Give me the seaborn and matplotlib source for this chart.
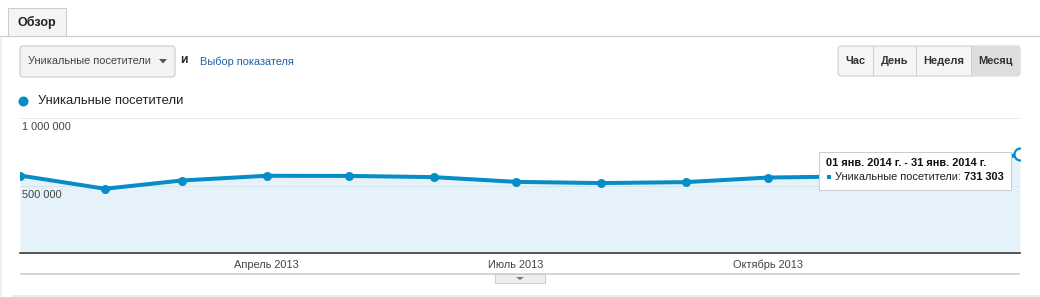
import matplotlib
matplotlib.use("Agg")
import matplotlib.pyplot as plt
import matplotlib.patches as mpatches
import matplotlib.transforms as mtransforms
import seaborn as sns
import pandas as pd

# ---- data ----
months = ["2013-01-01", "2013-02-01", "2013-03-01", "2013-04-01", "2013-05-01",
          "2013-06-01", "2013-07-01", "2013-08-01", "2013-09-01", "2013-10-01",
          "2013-11-01", "2013-12-01", "2014-01-01"]
visitors = [574000, 476000, 537000, 572000, 571000, 562000, 527000, 518000,
            525000, 559000, 567000, 600000, 731303]
tick_dates = ["2013-04-01", "2013-07-01", "2013-10-01"]
tick_labels = ["Апрель 2013", "Июль 2013", "Октябрь 2013"]
y_ticks = [500000, 1000000]
y_labels = ["500 000", "1 000 000"]
series_name = "Уникальные посетители"
tooltip_title = "01 янв. 2014 г. - 31 янв. 2014 г."
periods = ["Час", "День", "Неделя", "Месяц"]

df = pd.DataFrame({"month": pd.to_datetime(months), "visitors": visitors})

sns.set_theme(style="white")
plt.rcParams["font.family"] = ["Liberation Sans", "DejaVu Sans"]

W, H = 1040, 297
fig = plt.figure(figsize=(W / 100, H / 100), dpi=100)
fig.patch.set_facecolor("white")
PT = 0.72  # px -> pt

BLUE = "#058dc7"
FILL = "#e6f2f9"

# ---- chart axes ----
ax = fig.add_axes([20 / W, 44 / H, 1000 / W, 135 / H])
ax.set_facecolor("none")
ax.fill_between(df["month"], df["visitors"], 0, color=FILL, lw=0, zorder=1)
sns.lineplot(data=df, x="month", y="visitors", ax=ax, color=BLUE,
             lw=4 * PT, marker="o", markersize=9 * PT, markeredgewidth=0,
             zorder=3)
last = df.iloc[[-1]]
ax.plot(last["month"], last["visitors"], "o", ms=12 * PT, mfc="white",
        mec=BLUE, mew=2.2 * PT, zorder=4)

ax.set_xlim(df["month"].iloc[0], df["month"].iloc[-1])
ax.set_ylim(0, y_ticks[-1])
ax.set_xlabel("")
ax.set_ylabel("")
ax.set_xticks(pd.to_datetime(tick_dates))
ax.set_xticklabels(tick_labels)
ax.tick_params(axis="x", length=0, pad=5, labelsize=11 * PT, labelcolor="#444")
ax.set_yticks([])
for v, c in zip(y_ticks, ["#d6e4ec", "#e8e8e8"]):
    ax.axhline(v, color=c, lw=1 * PT, zorder=2)
tr = mtransforms.blended_transform_factory(ax.transAxes, ax.transData)
shift = mtransforms.ScaledTranslation(0, -4 / 100, fig.dpi_scale_trans)
for v, lab in zip(y_ticks, y_labels):
    ax.text(2 / 1000, v, lab, transform=tr + shift, ha="left", va="top",
            fontsize=11 * PT, color="#444", zorder=5)
for s in ["top", "right", "left"]:
    ax.spines[s].set_visible(False)
ax.spines["bottom"].set_color("#333")
ax.spines["bottom"].set_linewidth(1.6 * PT)

# ---- overlay for UI elements (pixel coords) ----
ov = fig.add_axes([0, 0, 1, 1], zorder=10)
ov.set_xlim(0, W)
ov.set_ylim(H, 0)
ov.axis("off")
ov.patch.set_alpha(0)


def rect(x0, y0, x1, y1, fc, ec, lw=1, rounded=False, z=1):
    style = "round,pad=0,rounding_size=3" if rounded else "square,pad=0"
    p = mpatches.FancyBboxPatch((x0, y0), x1 - x0, y1 - y0, boxstyle=style,
                                fc=fc, ec=ec, lw=lw * PT, zorder=z)
    ov.add_patch(p)


def hline(y, x0, x1, c, lw=1):
    ov.plot([x0, x1], [y, y], color=c, lw=lw * PT, solid_capstyle="butt")


# left faint border and bottom faint line
ov.plot([1, 1], [36, 297], color="#f0f0f0", lw=2 * PT)
hline(296, 12, 1040, "#ececec", 2)

# tab
hline(35.5, 0, 1040, "#cccccc", 1.2)
rect(8, 8, 66, 35.5, "#f4f4f4", "#cccccc", 1, z=2)
ov.text(37, 22, "Обзор", ha="center", va="center", fontsize=12.5 * PT,
        fontweight="bold", color="#222", zorder=3)

# dropdown
rect(20, 46, 175, 77, "#f3f3f3", "#c6c6c6", 1, rounded=True)
ov.text(28, 61.5, series_name, ha="left", va="center", fontsize=11 * PT, color="#444")
ov.add_patch(mpatches.Polygon([[159, 59], [167, 59], [163, 63.5]], closed=True,
                              fc="#555", ec="none"))
ov.text(180, 60, "и", ha="left", va="center", fontsize=12 * PT,
        fontweight="bold", color="#222")
ov.text(200, 61.5, "Выбор показателя", ha="left", va="center",
        fontsize=11 * PT, color="#1f62a8")

# period buttons
edges = [838, 873, 916, 971, 1020]
rect(838, 46, 1020, 76, "#f5f5f5", "#cccccc", 1, rounded=True)
rect(971, 46.5, 1019.5, 75.5, "#dedede", "none", 0, z=1.5)
for xs in edges[1:-1]:
    ov.plot([xs, xs], [46, 76], color="#d0d0d0", lw=1 * PT, zorder=2)
for i, lab in enumerate(periods):
    ov.text((edges[i] + edges[i + 1]) / 2, 61.5, lab, ha="center", va="center",
            fontsize=11 * PT, fontweight="bold", color="#333", zorder=3)

# legend
ov.add_patch(mpatches.Circle((23.5, 101.5), 5, fc=BLUE, ec="none"))
ov.text(38, 101.5, series_name, ha="left", va="center", fontsize=13 * PT, color="#222")

# bottom bar with small button
hline(274, 20, 1020, "#cccccc", 1.6)
rect(495, 274, 545, 283, "#eeeeee", "#cccccc", 1)
ov.add_patch(mpatches.Polygon([[516, 277], [524, 277], [520, 280]], closed=True,
                              fc="#777", ec="none", zorder=3))

# tooltip
rect(820, 153, 1012, 191, "#00000010", "none", 0, z=4)
rect(819, 152, 1011, 190, "white", "#cccccc", 1, z=5)
ov.text(826.5, 163.5, tooltip_title, ha="left", va="center", fontsize=11 * PT,
        fontweight="bold", color="#111", zorder=6)
ov.add_patch(mpatches.Rectangle((826.5, 175), 4, 4, fc=BLUE, ec="none", zorder=6))
ov.text(835, 177.5, series_name + ":", ha="left", va="center",
        fontsize=11 * PT, color="#222", zorder=6)
val = f"{visitors[-1]:,}".replace(",", " ")
ov.text(964, 177.5, val, ha="left", va="center", fontsize=11 * PT,
        fontweight="bold", color="#111", zorder=6)

fig.savefig("out.png", dpi=100, facecolor="white")
